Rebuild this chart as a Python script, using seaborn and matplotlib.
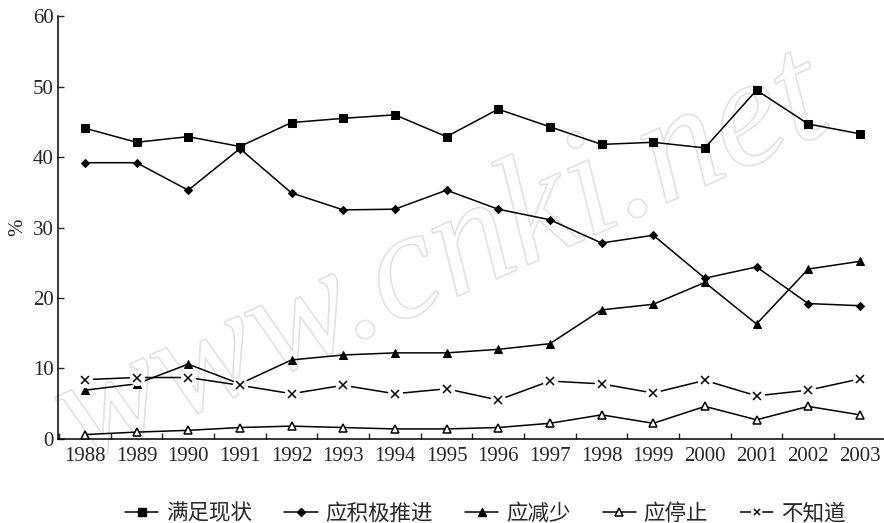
import seaborn as sns
import pandas as pd
import matplotlib.pyplot as plt
import matplotlib.patheffects as pe
from matplotlib.lines import Line2D
from matplotlib.ticker import MultipleLocator

years = list(range(1988, 2004))
manzu = [44.1, 42.1, 42.9, 41.5, 44.9, 45.5, 46.0, 42.9, 46.8, 44.3, 41.8, 42.1, 41.3, 49.5, 44.7, 43.3]
jiji = [39.2, 39.2, 35.3, 41.2, 34.9, 32.5, 32.6, 35.3, 32.6, 31.1, 27.8, 28.9, 22.8, 24.4, 19.2, 18.9]
jianshao = [6.9, 7.8, 10.6, 7.8, 11.2, 11.9, 12.2, 12.2, 12.7, 13.5, 18.3, 19.1, 22.2, 16.3, 24.1, 25.2]
tingzhi = [0.6, 0.95, 1.2, 1.6, 1.8, 1.6, 1.4, 1.4, 1.6, 2.2, 3.4, 2.2, 4.6, 2.7, 4.6, 3.4]
buzhidao = [8.4, 8.7, 8.7, 7.6, 6.4, 7.6, 6.4, 7.1, 5.5, 8.2, 7.8, 6.5, 8.3, 6.1, 6.9, 8.5]

names = ['满足现状', '应积极推进', '应减少', '应停止', '不知道']

df = pd.DataFrame({'年份': years, '满足现状': manzu, '应积极推进': jiji,
                   '应减少': jianshao, '应停止': tingzhi, '不知道': buzhidao})

sns.set_style('ticks')
plt.rcParams['font.family'] = ['Liberation Serif', 'Noto Sans CJK SC']
plt.rcParams['lines.scale_dashes'] = False

fig = plt.figure(figsize=(8.84, 5.23), dpi=100)
ax = fig.add_axes([0.0656, 0.161, 0.934, 0.808])

# watermark (outline only, under the data)
ax.text(0.5, 0.5, 'www.cnki.net', transform=fig.transFigure, fontsize=112,
        style='italic', color=(1, 1, 1, 0), rotation=24, ha='center', va='center',
        zorder=0.5, clip_on=False,
        path_effects=[pe.withStroke(linewidth=1.2, foreground='#e2e2e2')])

lw = 1.1
sns.lineplot(data=df, x='年份', y='满足现状', ax=ax, color='black', lw=lw,
             marker='s', markersize=6, markeredgecolor='black', zorder=3)
sns.lineplot(data=df, x='年份', y='应积极推进', ax=ax, color='black', lw=lw,
             marker='D', markersize=3.6, markeredgecolor='black', zorder=3)
sns.lineplot(data=df, x='年份', y='应减少', ax=ax, color='black', lw=lw,
             marker='^', markersize=5.5, markeredgecolor='black', zorder=3)
sns.lineplot(data=df, x='年份', y='应停止', ax=ax, color='black', lw=lw,
             marker='^', markersize=5.5, markerfacecolor='white',
             markeredgecolor='black', markeredgewidth=1.1, zorder=3)
# 不知道: line broken around the markers
sns.lineplot(data=df, x='年份', y='不知道', ax=ax, color='black', lw=lw, zorder=4)
ax.plot(df['年份'], df['不知道'], ls='none', marker='o', ms=11,
        mfc='white', mec='none', zorder=5)
ax.plot(df['年份'], df['不知道'], ls='none', marker='x', ms=5.5,
        mec='black', mew=1.1, zorder=6)

ax.set_xlim(1987.48, 2003.46)
ax.set_ylim(0, 60)
ax.set_xticks(years)
ax.set_xticklabels([str(y) for y in years])
ax.xaxis.set_minor_locator(MultipleLocator(1, offset=0.5))
ax.tick_params(axis='x', which='major', length=0, labelsize=15, pad=6)
ax.tick_params(axis='x', which='minor', direction='in', length=4, width=1)
ax.yaxis.set_major_locator(MultipleLocator(10))
ax.tick_params(axis='y', direction='in', length=4, width=1, labelsize=15, pad=3)
ax.set_xlabel('')
ax.set_ylabel('%', fontsize=15, labelpad=4)
sns.despine(ax=ax)
for s in ['left', 'bottom']:
    ax.spines[s].set_linewidth(1.1)
    ax.spines[s].set_color('black')

handles = [
    Line2D([], [], color='black', lw=lw, marker='s', ms=6),
    Line2D([], [], color='black', lw=lw, marker='D', ms=3.6),
    Line2D([], [], color='black', lw=lw, marker='^', ms=5.5),
    Line2D([], [], color='black', lw=lw, marker='^', ms=5.5, mfc='white', mew=1.1),
    Line2D([], [], color='black', lw=lw, marker='x', ms=5, mew=1.1,
           ls=(0, (8, 8, 8, 100))),
]
fig.legend(handles, names, loc='center', bbox_to_anchor=(0.549, 0.018), ncol=5,
           frameon=False, handlelength=1.55, handletextpad=0.35,
           columnspacing=1.5, prop={'family': ['Noto Sans CJK SC'], 'size': 15.5})

fig.savefig('out.png', dpi=100)
